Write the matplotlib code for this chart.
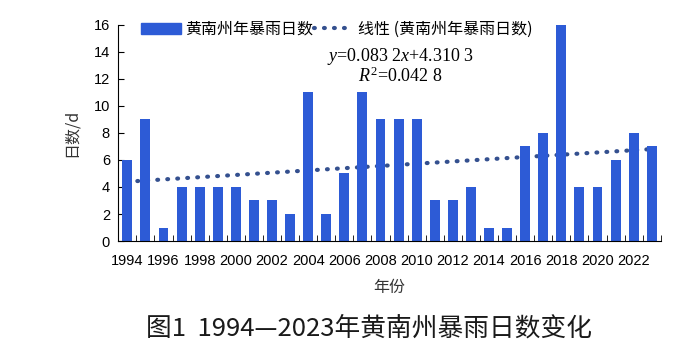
import numpy as np
import matplotlib.pyplot as plt
from matplotlib.lines import Line2D
from matplotlib.patches import Patch

plt.rcParams['font.family'] = ['Noto Sans CJK SC', 'DejaVu Sans']
plt.rcParams['mathtext.fontset'] = 'custom'
plt.rcParams['mathtext.it'] = 'Liberation Serif:italic'
plt.rcParams['mathtext.rm'] = 'Liberation Serif'

years = list(range(1994, 2024))
days = [6, 9, 1, 4, 4, 4, 4, 3, 3, 2, 11, 2, 5, 11, 9, 9, 9, 3, 3, 4,
        1, 1, 7, 8, 16, 4, 4, 6, 8, 7]
slope = 0.0832
intercept = 4.3103

BAR = '#2d5bd6'
TREND = '#34508f'
NUM_FONT = 'Liberation Sans'
DOTS = (0, (0.2, 2.2))

fig = plt.figure(figsize=(7, 3.56), dpi=100)
ax = fig.add_axes([0.169, 0.323, 0.775, 0.607])

x = np.arange(len(years))
ax.bar(x, days, width=0.55, color=BAR, zorder=2)
trend = slope * (x + 1) + intercept
ax.plot(x, trend, linestyle=DOTS, color=TREND, linewidth=3.0,
        dash_capstyle='round', zorder=1)

ax.set_xlim(-0.5, len(years) - 0.5)
ax.set_ylim(0, 16)
ax.set_yticks(range(0, 17, 2))
ax.set_yticklabels([str(v) for v in range(0, 17, 2)], fontfamily=NUM_FONT, fontsize=10.5)
ax.tick_params(axis='y', direction='in', length=4, pad=6)

# category boundary ticks, labels every two years
ax.set_xticks(np.arange(-0.5, len(years), 1.0), minor=True)
ax.set_xticks(x[::2])
ax.set_xticklabels([str(y) for y in years[::2]], fontfamily=NUM_FONT, fontsize=10.5)
ax.tick_params(axis='x', which='major', length=0, pad=9)
ax.tick_params(axis='x', which='minor', direction='in', length=4)

for s in ['top', 'right']:
    ax.spines[s].set_visible(False)

ax.set_ylabel('日数/d', fontsize=11.5, color='#333333', labelpad=10)
ax.set_xlabel('年份', fontsize=11.5, color='#333333', labelpad=8)

handles = [Patch(color=BAR),
           Line2D([0], [0], linestyle=DOTS, color=TREND, linewidth=3.0,
                  dash_capstyle='round')]
labels = ['黄南州年暴雨日数', '线性 (黄南州年暴雨日数)']
ax.legend(handles, labels, loc='upper left', bbox_to_anchor=(0.015, 1.085), ncol=2,
          frameon=False, handlelength=2.5, handletextpad=0.3, columnspacing=0.0,
          prop={'family': ['Noto Sans CJK SC', 'DejaVu Sans'], 'size': 11.5})

ax.text(0.52, 0.855, r'$y$=0.083 2$x$+4.310 3', transform=ax.transAxes,
        ha='center', va='center', fontsize=13, fontfamily='Liberation Serif')
ax.text(0.52, 0.76, r'$R^2$=0.042 8', transform=ax.transAxes,
        ha='center', va='center', fontsize=13, fontfamily='Liberation Serif')

fig.text(0.527, 0.078, '图1  1994—2023年黄南州暴雨日数变化', ha='center', va='center',
         fontsize=18.5, color='#1a1a1a', fontweight='medium')

fig.savefig('out.png', dpi=100)
